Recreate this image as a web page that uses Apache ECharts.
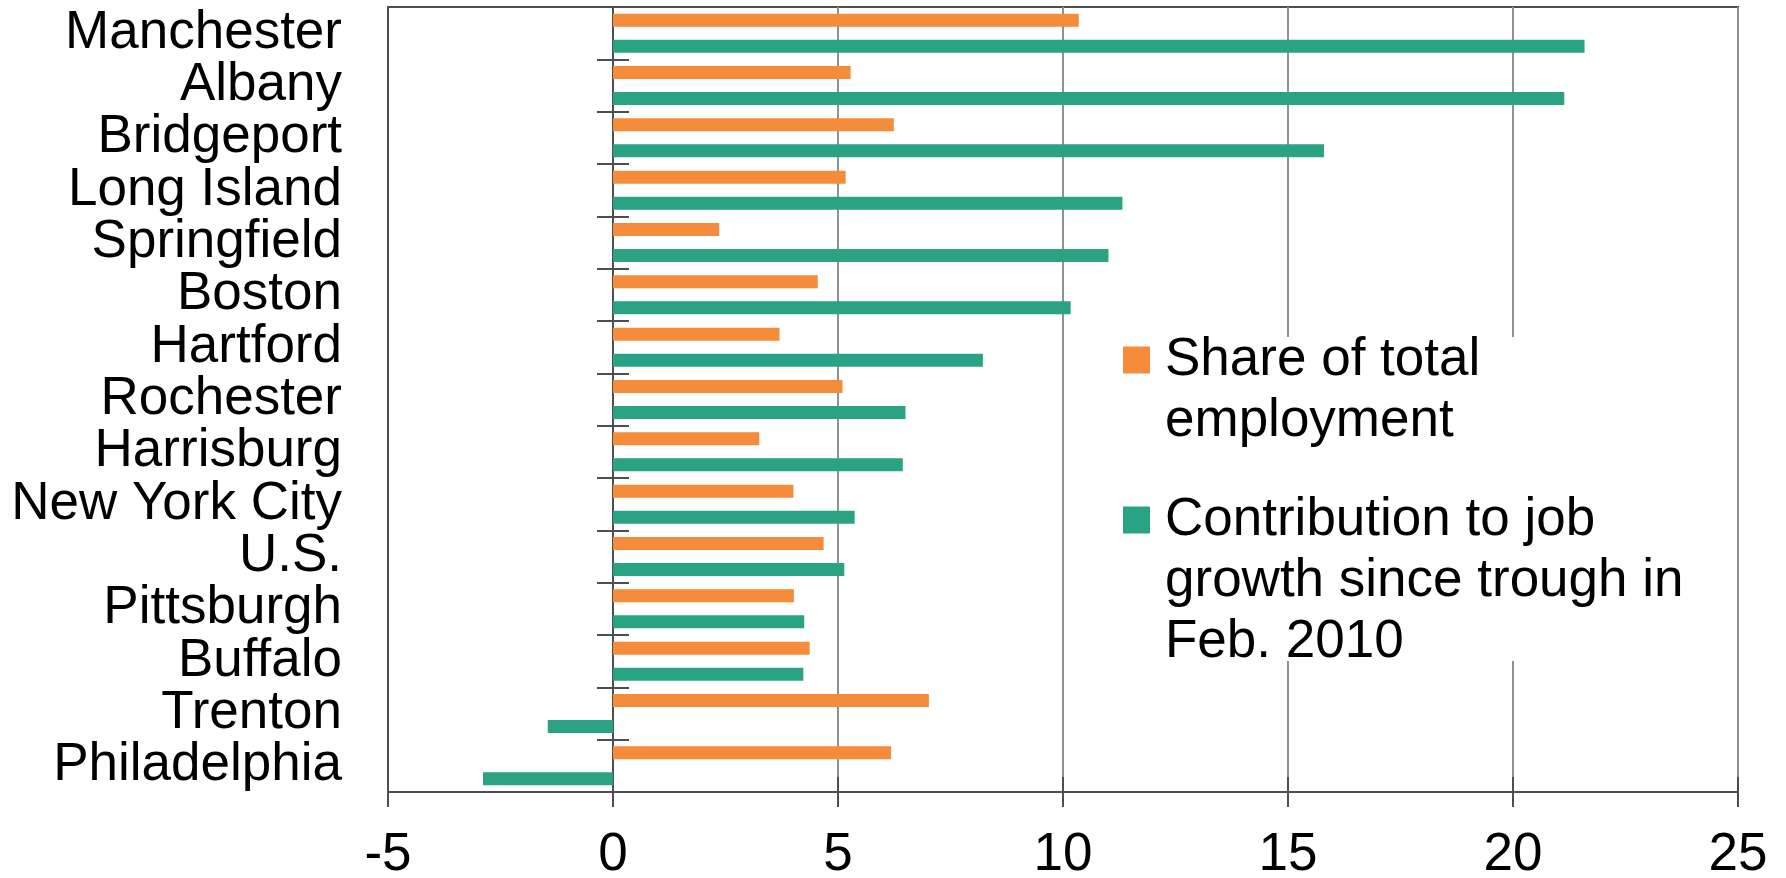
<!DOCTYPE html>
<html>
<head>
<meta charset="utf-8">
<script src="https://cdn.jsdelivr.net/npm/echarts@6/dist/echarts.min.js"></script>
<style>
html,body{margin:0;padding:0;background:#fff;}
#chart{width:1786px;height:878px;}
</style>
</head>
<body>
<div id="chart"></div>
<script>
var cities = ['Manchester','Albany','Bridgeport','Long Island','Springfield','Boston','Hartford','Rochester','Harrisburg','New York City','U.S.','Pittsburgh','Buffalo','Trenton','Philadelphia'];
var shareOfEmployment = [10.35, 5.28, 6.24, 5.17, 2.36, 4.55, 3.70, 5.10, 3.25, 4.01, 4.68, 4.02, 4.37, 7.02, 6.18];
var contribution = [21.59, 21.14, 15.80, 11.32, 11.01, 10.17, 8.22, 6.50, 6.44, 5.37, 5.14, 4.25, 4.23, -1.45, -2.89];
var seriesNames = ['Share of total\nemployment', 'Contribution to job\ngrowth since trough in\nFeb. 2010'];
var xTicks = { min: -5, max: 25, interval: 5 };

var FONT = "'Liberation Sans', Arial, sans-serif";
var AXIS = '#4b4f54';
var GRIDC = '#8e9195';
var ORANGE = '#F58C3C';
var GREEN = '#29A383';
var LH = 61;

// prepend blank lines so the first text line sits level with the legend marker
function padLines(name) {
  var n = name.split('\n').length;
  return new Array(n).join('\n') + name;
}

var chart = echarts.init(document.getElementById('chart'), null, {renderer: 'canvas'});
chart.setOption({
  animation: false,
  backgroundColor: '#fff',
  grid: {
    left: 388, right: 48, top: 7, bottom: 86,
    show: true, borderColor: AXIS, borderWidth: 2, backgroundColor: 'transparent',
    containLabel: false, outerBoundsMode: 'none'
  },
  xAxis: [{
    type: 'value', position: 'bottom',
    min: xTicks.min, max: xTicks.max, interval: xTicks.interval,
    axisLine: {show: true, onZero: false, lineStyle: {color: AXIS, width: 2}},
    axisTick: {show: true, length: 15, lineStyle: {color: AXIS, width: 2}},
    axisLabel: {fontSize: 53, color: '#000', fontFamily: FONT, margin: 37},
    splitLine: {show: true, lineStyle: {color: GRIDC, width: 2}}
  }, {
    type: 'value', position: 'bottom',
    min: xTicks.min, max: xTicks.max, interval: xTicks.interval,
    axisLine: {show: false, onZero: false},
    axisTick: {show: true, inside: true, length: 15, lineStyle: {color: AXIS, width: 2}},
    axisLabel: {show: false},
    splitLine: {show: false}
  }],
  yAxis: [{
    type: 'category', data: cities, inverse: true, position: 'left',
    axisLine: {show: true, onZero: false, lineStyle: {color: AXIS, width: 2}},
    axisTick: {show: false},
    axisLabel: {fontSize: 53, color: '#000', fontFamily: FONT, margin: 46, interval: 0},
    splitLine: {show: false}
  }, {
    type: 'category', data: cities, inverse: true, position: 'left',
    axisLine: {show: true, onZero: true, onZeroAxisIndex: 0, lineStyle: {color: AXIS, width: 2}},
    axisTick: {show: true, length: 16, interval: 0, lineStyle: {color: AXIS, width: 2}},
    axisLabel: {show: false},
    splitLine: {show: false}
  }, {
    type: 'category', data: cities, inverse: true, position: 'left',
    axisLine: {show: false, onZero: true, onZeroAxisIndex: 1},
    axisTick: {show: true, inside: true, length: 16, interval: 0, lineStyle: {color: AXIS, width: 2}},
    axisLabel: {show: false},
    splitLine: {show: false}
  }],
  graphic: [{
    type: 'rect', left: 1085, top: 337, z: 1,
    shape: {width: 600, height: 324},
    style: {fill: '#fff'}
  }],
  legend: [{
    data: [{name: seriesNames[0], icon: 'rect'}],
    formatter: padLines,
    left: 1123, top: 268.5, padding: 0,
    itemWidth: 27, itemHeight: 27, selectedMode: false,
    textStyle: {fontSize: 53, color: '#000', fontFamily: FONT, lineHeight: LH,
      padding: [0, 0, 0, 10], backgroundColor: 'transparent'}
  }, {
    data: [{name: seriesNames[1], icon: 'rect'}],
    formatter: padLines,
    left: 1123, top: 367.5, padding: 0,
    itemWidth: 27, itemHeight: 27, selectedMode: false,
    textStyle: {fontSize: 53, color: '#000', fontFamily: FONT, lineHeight: LH,
      padding: [0, 0, 0, 10], backgroundColor: 'transparent'}
  }],
  series: [{
    name: seriesNames[0], type: 'bar', xAxisIndex: 0, yAxisIndex: 1,
    data: shareOfEmployment, barWidth: 13, barGap: '100%',
    itemStyle: {color: ORANGE}
  }, {
    name: seriesNames[1], type: 'bar', xAxisIndex: 0, yAxisIndex: 1,
    data: contribution, barWidth: 13, barGap: '100%',
    itemStyle: {color: GREEN}
  }]
});
</script>
</body>
</html>
